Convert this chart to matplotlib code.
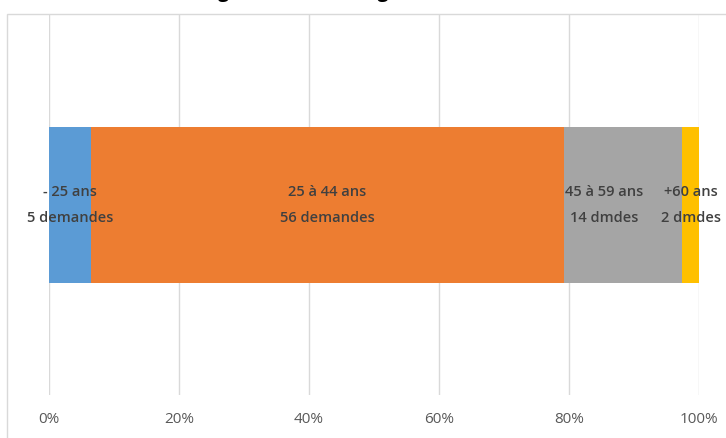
import numpy as np
import matplotlib
matplotlib.use("Agg")
import matplotlib.pyplot as plt
from matplotlib.patches import Rectangle

# demandes par tranche d'âge
tranches = ["- 25 ans", "25 à 44 ans", "45 à 59 ans", "+60 ans"]
demandes = [5, 56, 14, 2]
libelles = ["- 25 ans\n5 demandes", "25 à 44 ans\n56 demandes",
            "45 à 59 ans\n14 dmdes", "+60 ans\n2 dmdes"]
couleurs = ["#5B9BD5", "#ED7D31", "#A5A5A5", "#FFC000"]
ticks = [0, 20, 40, 60, 80, 100]

plt.rcParams["font.family"] = ["Open Sans", "DejaVu Sans"]

W, H = 726, 438
fig = plt.figure(figsize=(W / 100, H / 100), dpi=100)

# cadre du graphique (déborde à droite et en bas)
fig.patches.append(Rectangle((7 / W, -0.1), 1.2, 1 - 14 / H + 0.1,
                             transform=fig.transFigure, fill=False,
                             edgecolor="#D9D9D9", lw=1))

# titre, coupé en haut de l'image
fig.text(228 / W, 1.0 + 3 / H, "Les demandes logement selon l'âge",
         ha="center", va="baseline", fontsize=14, fontweight="bold",
         color="#000000")

ax = fig.add_axes([49 / W, 1 - 395 / H, 650 / W, 380 / H])

total = sum(demandes)
parts = np.array(demandes) / total * 100
left = 0
decalage = {2: -2.9}
for i, (p, c, lab) in enumerate(zip(parts, couleurs, libelles)):
    ax.barh(0, p, left=left, height=0.41, color=c, zorder=3)
    ax.text(left + p / 2 + decalage.get(i, 0), 0, lab, ha="center",
            va="center", fontsize=10.5, fontweight="semibold",
            color="#404040", linespacing=2.05, zorder=4)
    left += p

ax.set_xlim(0, 100)
ax.set_ylim(-0.5, 0.5)
ax.set_xticks(ticks)
ax.set_xticklabels([f"{t}%" for t in ticks])
ax.set_yticks([])
ax.tick_params(axis="x", length=0, colors="#595959", labelsize=11, pad=12)
ax.grid(axis="x", color="#D9D9D9", lw=1, zorder=0)
for s in ax.spines.values():
    s.set_visible(False)

fig.savefig("out.png", dpi=100)
